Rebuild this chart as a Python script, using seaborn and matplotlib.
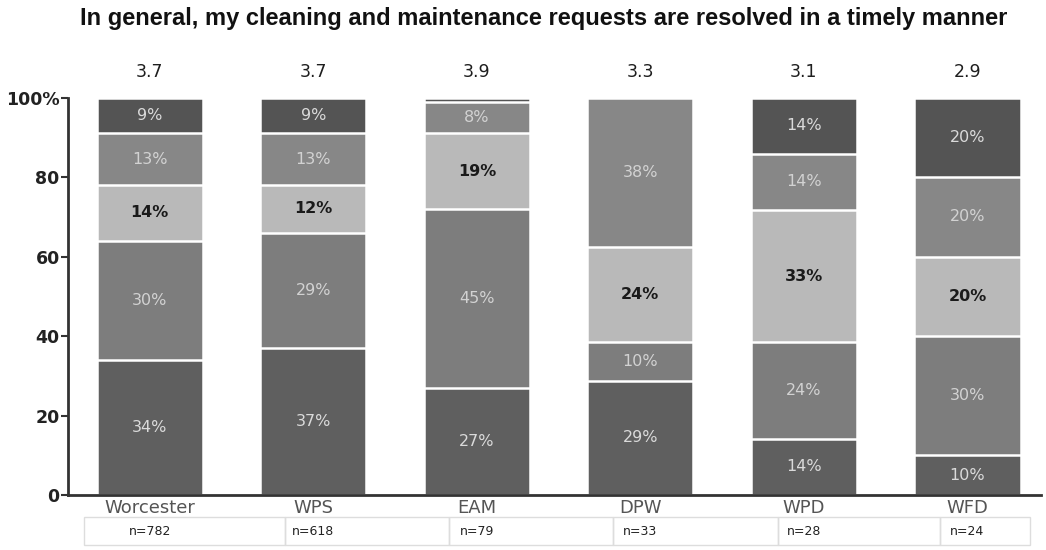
import numpy as np
import pandas as pd
import matplotlib
matplotlib.use("Agg")
import matplotlib.pyplot as plt
import seaborn as sns
from matplotlib.patches import Rectangle

# ---------------- data ----------------
categories = ["Worcester", "WPS", "EAM", "DPW", "WPD", "WFD"]
means = ["3.7", "3.7", "3.9", "3.3", "3.1", "2.9"]
n_labels = ["n=782", "n=618", "n=79", "n=33", "n=28", "n=24"]
# stacked from bottom to top
level1 = [34, 37, 27, 29, 14, 10]   # bottom
level2 = [30, 29, 45, 10, 24, 30]
level3 = [14, 12, 19, 24, 33, 20]   # middle (light)
level4 = [13, 13, 8, 38, 14, 20]
level5 = [9, 9, 1, 0, 14, 20]       # top
yticks = [0, 20, 40, 60, 80, 100]
ytick_labels = ["0", "20", "40", "60", "80", "100%"]
title = "In general, my cleaning and maintenance requests are resolved in a timely manner"

levels = [level1, level2, level3, level4, level5]
colors = ["#5f5f5f", "#7d7d7d", "#b9b9b9", "#878787", "#545454"]
label_colors = ["#dadada", "#d2d2d2", "#1a1a1a", "#d2d2d2", "#dadada"]
label_weights = ["normal", "normal", "bold", "normal", "normal"]

sns.set_theme(style="white")
plt.rcParams["font.family"] = ["DejaVu Sans"]

fig = plt.figure(figsize=(10.46, 5.5), dpi=100)
ax = fig.add_axes([68 / 1046, 55 / 550, 973 / 1046, (445) / 550])

vals = np.array(levels, dtype=float)          # shape (5, 6)
totals = vals.sum(axis=0)
norm = vals / totals * 100.0
cum = np.cumsum(norm, axis=0)

df = pd.DataFrame({"cat": categories})
# draw cumulative bars from top level down, so lower levels overlay
for k in range(len(levels) - 1, -1, -1):
    df["h"] = cum[k]
    sns.barplot(data=df, x="cat", y="h", order=categories, color=colors[k],
                width=0.65, edgecolor="white", linewidth=1.8, saturation=1,
                ax=ax, zorder=2)

# segment labels
for k in range(len(levels)):
    for i in range(len(categories)):
        v = vals[k, i]
        if v < 5:
            continue
        ymid = cum[k, i] - norm[k, i] / 2
        ax.text(i, ymid, f"{int(v)}%", ha="center", va="center",
                fontsize=11.5, color=label_colors[k],
                fontweight=label_weights[k], zorder=5)

# mean labels
for i, m in enumerate(means):
    ax.text(i, 106.5, m, ha="center", va="center", fontsize=12.5,
            color="#1e1e1e", clip_on=False)

ax.set_xlim(-0.5, 5.45)
ax.set_ylim(0, 112)
ax.set_yticks(yticks)
ax.set_yticklabels(ytick_labels, fontsize=12.5, fontweight="bold", color="#222222")
ax.set_xticks(range(len(categories)))
ax.set_xticklabels(categories, fontsize=13, color="#555555")
ax.tick_params(axis="x", length=0, pad=3)
ax.tick_params(axis="y", length=5, width=1.5, color="#333333", left=True, pad=1)
ax.set_xlabel("")
ax.set_ylabel("")
for s in ["top", "right"]:
    ax.spines[s].set_visible(False)
ax.spines["left"].set_bounds(0, 100)
ax.spines["left"].set_color("#333333")
ax.spines["left"].set_linewidth(2)
ax.spines["bottom"].set_color("#333333")
ax.spines["bottom"].set_linewidth(2)
ax.grid(False)

# n table below
bounds = [-0.40, 0.83, 1.83, 2.83, 3.84, 4.83, 5.38]
for i in range(len(categories)):
    x0, x1 = bounds[i], bounds[i + 1]
    ax.add_patch(Rectangle((x0, -12.6), x1 - x0, 7.0, fill=False,
                           edgecolor="#dddddd", linewidth=1.0, clip_on=False))
    ax.text(i, -9.1, n_labels[i], ha="center", va="center", fontsize=9,
            color="#222222", clip_on=False)

fig.text(0.5 * (83 + 1005) / 1046, 1 - 19 / 550, title, ha="center", va="center",
         fontsize=17, fontweight="bold", color="#111111",
         family=["Liberation Sans", "DejaVu Sans"])

fig.savefig("out.png", dpi=100, facecolor="white")
